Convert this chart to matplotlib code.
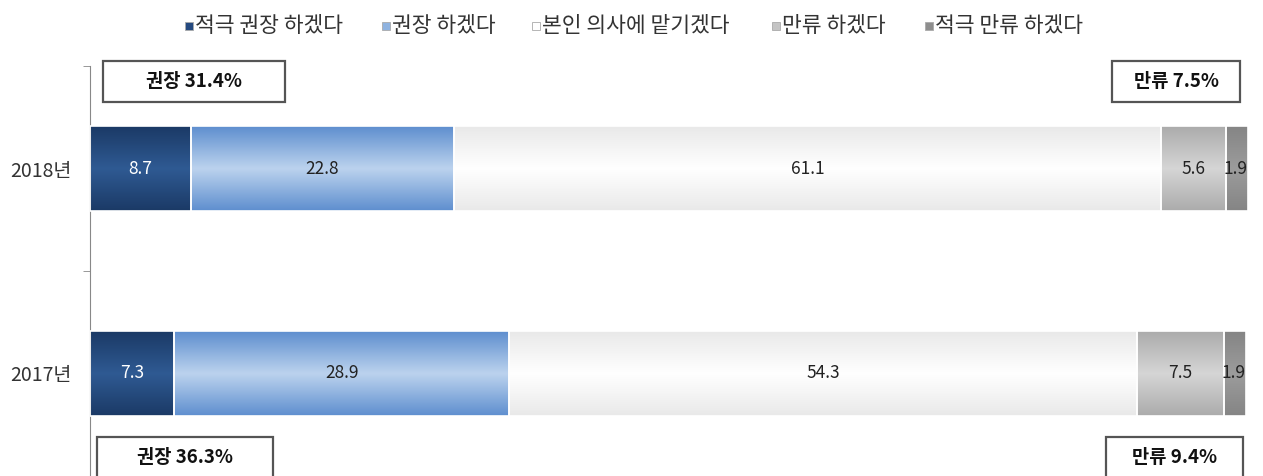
import numpy as np
import matplotlib
matplotlib.use("Agg")
import matplotlib.pyplot as plt
from matplotlib.colors import LinearSegmentedColormap
from matplotlib.patches import Rectangle

plt.rcParams['font.family'] = ['Noto Sans CJK KR', 'DejaVu Sans']

# data
years = ['2017년', '2018년']
series = ['적극 권장 하겠다', '권장 하겠다', '본인 의사에 맡기겠다', '만류 하겠다', '적극 만류 하겠다']
values = {
    '적극 권장 하겠다': [7.3, 8.7],
    '권장 하겠다': [28.9, 22.8],
    '본인 의사에 맡기겠다': [54.3, 61.1],
    '만류 하겠다': [7.5, 5.6],
    '적극 만류 하겠다': [1.9, 1.9],
}
summary_top = ['권장 31.4%', '만류 7.5%']   # 2018
summary_bot = ['권장 36.3%', '만류 9.4%']   # 2017

# (edge, middle) colours for vertical gradient
grads = [
    ('#1b3a66', '#2f5a93'),
    ('#5f8fcf', '#bcd3ee'),
    ('#e9e9e9', '#ffffff'),
    ('#acacac', '#d6d6d6'),
    ('#858585', '#9c9c9c'),
]
legend_cols = ['#254a80', '#8fb3e0', '#ffffff', '#c4c4c4', '#8e8e8e']
text_cols = ['white', '#222222', '#222222', '#222222', '#222222']

W, H = 1263, 476
fig = plt.figure(figsize=(W / 100, H / 100), dpi=100)
ax = fig.add_axes([90 / W, 0.0, 1158 / W, 1 - 66 / H])

ypos = np.arange(len(years))
h = 0.41
left = np.zeros(len(years))
for i, s in enumerate(series):
    v = np.array(values[s])
    bars = ax.barh(ypos, v, left=left, height=h, color=grads[i][1],
                   edgecolor='white', linewidth=1.2, zorder=2)
    cmap = LinearSegmentedColormap.from_list('g%d' % i, [grads[i][0], grads[i][1], grads[i][0]])
    grad = np.linspace(0, 1, 64).reshape(-1, 1)
    for b in bars:
        x0, y0 = b.get_x(), b.get_y()
        im = ax.imshow(grad, extent=[x0, x0 + b.get_width(), y0, y0 + b.get_height()],
                       aspect='auto', cmap=cmap, zorder=2.5, interpolation='bicubic')
        im.set_clip_path(b)
        ax.add_patch(Rectangle((x0, y0), b.get_width(), b.get_height(), fill=False,
                               edgecolor='white', linewidth=1.2, zorder=3))
    for j, b in enumerate(bars):
        xc = left[j] + v[j] / 2
        if s == '적극 만류 하겠다':
            xc = left[j] + v[j] * 0.45
        ax.text(xc, ypos[j], '%.1f' % v[j], ha='center', va='center',
                fontsize=12.5, color=text_cols[i], zorder=4)
    left += v

ax.set_xlim(0, 100.1)
ax.set_ylim(-0.5, 1.5)
ax.set_yticks(ypos)
ax.set_yticklabels(years, fontsize=14, color='#333333')
ax.tick_params(axis='y', which='major', length=0, pad=13)
ax.set_yticks([0.5, 1.5], minor=True)
ax.tick_params(axis='y', which='minor', length=5, color='#888888')
ax.set_xticks([])
for sp in ['top', 'right', 'bottom']:
    ax.spines[sp].set_visible(False)
ax.spines['left'].set_color('#888888')

# summary boxes (figure pixel placement)
def box(x0, x1, ytop, ybot, label):
    fig.patches.append(Rectangle((x0 / W, 1 - ybot / H), (x1 - x0) / W,
                                 (ybot - ytop) / H, transform=fig.transFigure,
                                 facecolor='white', edgecolor='#555555', linewidth=1.6))
    fig.text((x0 + x1) / 2 / W, 1 - (ytop + ybot) / 2 / H, label, ha='center',
             va='center', fontsize=13.5, fontweight='bold', color='#111111')

box(103, 285, 61, 102, summary_top[0])
box(1112, 1240, 61, 102, summary_top[1])
box(97, 273, 437, 478, summary_bot[0])
box(1106, 1243, 437, 478, summary_bot[1])

# legend, laid out item by item
leg_x = [188, 385, 535, 775, 928]
leg_y = 26
for x, c, s in zip(leg_x, legend_cols, series):
    fig.patches.append(Rectangle(((x - 3) / W, 1 - (leg_y + 4) / H), 8 / W, 8 / H,
                                 transform=fig.transFigure, facecolor=c,
                                 edgecolor='#aaaaaa', linewidth=0.6))
    fig.text((x + 7) / W, 1 - leg_y / H, s, ha='left', va='center',
             fontsize=15.5, color='#333333')

fig.savefig('out.png', dpi=100)
